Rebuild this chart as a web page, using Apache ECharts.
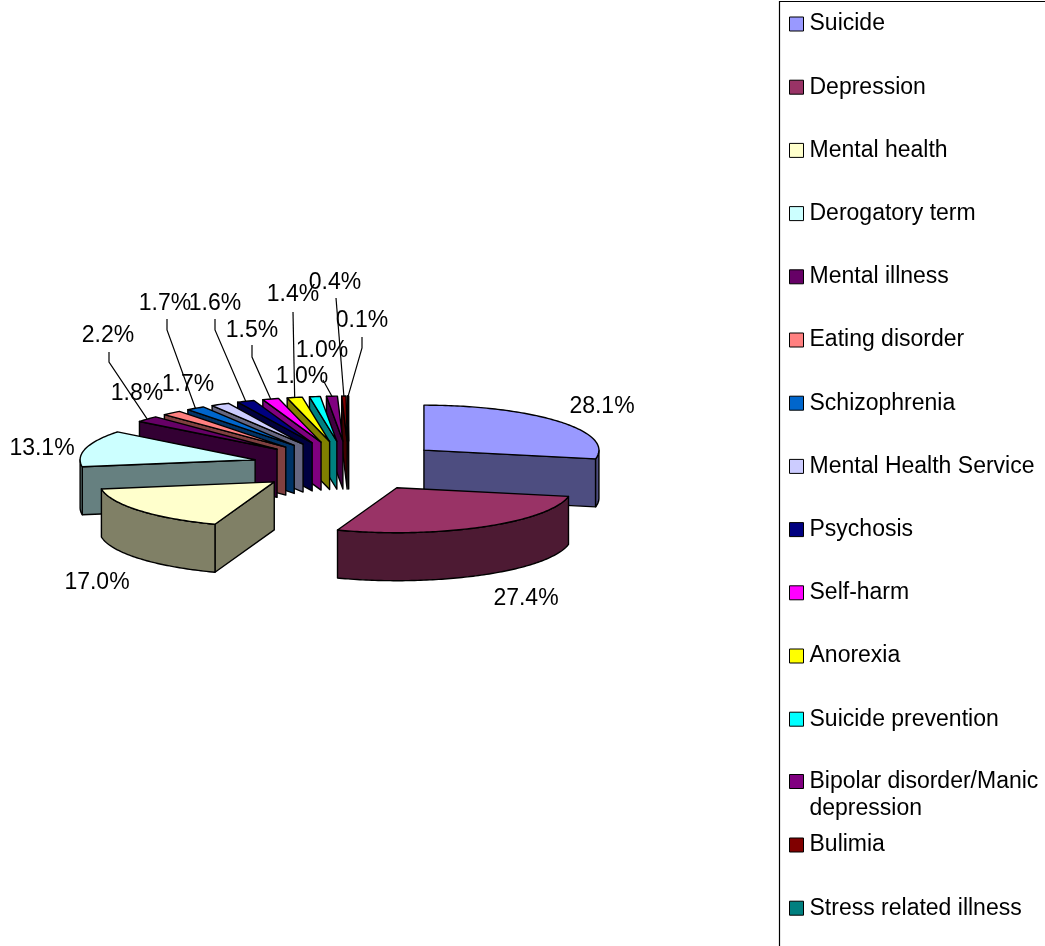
<!DOCTYPE html>
<html>
<head>
<meta charset="utf-8">
<title>Pie</title>
<script src="https://cdn.jsdelivr.net/npm/echarts@6/dist/echarts.min.js"></script>
<style>
	html, body { margin: 0; padding: 0; background: #fff; }
	#chart { width: 1045px; height: 946px; }
</style>
</head>
<body>
<div id="chart"></div>
<script>
// data
const categories = ["Suicide", "Depression", "Mental health", "Derogatory term", "Mental illness", "Eating disorder", "Schizophrenia", "Mental Health Service", "Psychosis", "Self-harm", "Anorexia", "Suicide prevention", "Bipolar disorder/Manic depression", "Bulimia", "Stress related illness"];
const shares = [28.1, 27.4, 17.0, 13.1, 2.2, 1.8, 1.7, 1.7, 1.6, 1.5, 1.4, 1.0, 1.0, 0.4, 0.1];

// styles
const colors = ["#9999FF", "#993366", "#FFFFCC", "#CCFFFF", "#660066", "#FF8080", "#0066CC", "#CCCCFF", "#000080", "#FF00FF", "#FFFF00", "#00FFFF", "#800080", "#800000", "#008080"];
const FONT = "Liberation Sans, Arial, sans-serif";
const FONT_SIZE = 23;

// tilted pie geometry
const center = { x: 349, y: 466 };
const radiusX = 175;
const radiusY = 45;
const explode = 97;
const depth = 48;
const RAD = Math.PI / 180;

// hand placed label boxes, [x, y] of the text, then the leader knee points if any
const labelPlaces = [
	{ at: [602, 407] },
	{ at: [526, 599] },
	{ at: [97, 583] },
	{ at: [42, 449] },
	{ at: [108, 336], leader: [[109, 352], [109, 362]] },
	{ at: [137, 394] },
	{ at: [165, 304], leader: [[167, 319], [167, 330]] },
	{ at: [188, 385] },
	{ at: [215, 304], leader: [[215, 319], [215, 330]] },
	{ at: [252, 331], leader: [[252, 345], [252, 357]] },
	{ at: [293, 295], leader: [[293, 312]] },
	{ at: [322, 351] },
	{ at: [302, 377], leader: [[323, 380]] },
	{ at: [335, 283], leader: [[336, 298]] },
	{ at: [362, 321], leader: [[362, 337], [362, 348]] }
];

const total = shares.reduce((a, b) => a + b, 0);

//每块的起止角度
let sum = 0;
const sliceAngles = shares.map(v => {
	const start = sum / total * 360;
	sum += v;
	return [start, sum / total * 360];
});

function darker(hex) {
	const c = echarts.color.parse(hex);
	return echarts.color.stringify([c[0] / 2, c[1] / 2, c[2] / 2, 1], "rgba");
}

// centre of an exploded slice
function apexOf(a0, a1) {
	const mid = (a0 + a1) / 2 * RAD;
	return [center.x + explode * Math.sin(mid), center.y - explode * (radiusY / radiusX) * Math.cos(mid)];
}

function rimPoint(apex, deg, drop) {
	return [apex[0] + radiusX * Math.sin(deg * RAD), apex[1] - radiusY * Math.cos(deg * RAD) + (drop || 0)];
}

function poly(points, fill) {
	return {
		type: "polygon",
		shape: { points: points },
		style: { fill: fill, stroke: "#000", lineWidth: 1.4, lineJoin: "round" }
	};
}

function renderSlice(params, api) {
	const a0 = api.value(0);
	const a1 = api.value(1);
	const color = colors[params.seriesIndex];
	const side = darker(color);
	const apex = apexOf(a0, a1);
	const low = [apex[0], apex[1] + depth];
	const children = [];

	// radial walls, only the ones turned to the viewer
	if (Math.cos((a0 - 90) * RAD) < -0.001) {
		children.push(poly([apex, rimPoint(apex, a0), rimPoint(apex, a0, depth), low], side));
	}
	if (Math.cos((a1 + 90) * RAD) < -0.001) {
		children.push(poly([apex, rimPoint(apex, a1), rimPoint(apex, a1, depth), low], side));
	}
	// outer wall, front half of the rim
	const from = Math.max(a0, 90);
	const to = Math.min(a1, 270);
	if (to > from) {
		const upper = [];
		const lower = [];
		for (let d = from; d < to; d += 1) {
			upper.push(rimPoint(apex, d));
			lower.unshift(rimPoint(apex, d, depth));
		}
		upper.push(rimPoint(apex, to));
		lower.unshift(rimPoint(apex, to, depth));
		children.push(poly(upper.concat(lower), side));
	}
	// top
	const top = [apex];
	for (let d = a0; d < a1; d += 1) {
		top.push(rimPoint(apex, d));
	}
	top.push(rimPoint(apex, a1));
	children.push(poly(top, color));

	return { type: "group", children: children };
}

function renderLabel(params, api) {
	const i = api.value(0);
	const place = labelPlaces[i];
	const children = [];
	if (place.leader) {
		const a = sliceAngles[i];
		const end = rimPoint(apexOf(a[0], a[1]), (a[0] + a[1]) / 2);
		children.push({
			type: "polyline",
			shape: { points: place.leader.concat([end]) },
			style: { fill: null, stroke: "#000", lineWidth: 1.2 }
		});
	}
	children.push({
		type: "text",
		style: {
			text: shares[i].toFixed(1) + "%",
			x: place.at[0],
			y: place.at[1],
			align: "center",
			verticalAlign: "middle",
			fill: "#000",
			font: FONT_SIZE + "px " + FONT
		}
	});
	return { type: "group", children: children };
}

//绘制顺序：从后往前
const paintRank = shares.map((v, i) => -Math.cos((sliceAngles[i][0] + sliceAngles[i][1]) / 2 * RAD));
const paintOrder = paintRank.map((v, i) => i).sort((a, b) => paintRank[a] - paintRank[b]);

const series = categories.map((name, i) => ({
	type: "custom",
	name: name,
	coordinateSystem: "none",
	z: 2 + paintOrder.indexOf(i),
	silent: true,
	itemStyle: { color: colors[i] },
	renderItem: renderSlice,
	data: [sliceAngles[i]]
}));
series.push({
	type: "custom",
	name: "labels",
	coordinateSystem: "none",
	z: 40,
	silent: true,
	renderItem: renderLabel,
	data: shares.map((v, i) => [i])
});

const legendBase = {
	orient: "vertical",
	left: 789,
	padding: 0,
	itemWidth: 14,
	itemHeight: 14,
	itemGap: 35.2,
	icon: "rect",
	selectedMode: false,
	itemStyle: { borderColor: "#000", borderWidth: 1 },
	textStyle: { color: "#000", fontFamily: FONT, fontSize: FONT_SIZE, lineHeight: 27, padding: [1, 0, 0, 1] }
};

const option = {
	backgroundColor: "#fff",
	animation: false,
	legend: [
		Object.assign({}, legendBase, {
			top: 10,
			data: categories.slice(0, 12)
		}),
		// the wrapped item sits in its own legend, a blank first line keeps the marker on the text line
		Object.assign({}, legendBase, {
			top: 740.5,
			data: [categories[12]],
			formatter: function(name) {
				return "\n" + name.replace("/Manic ", "/Manic\n");
			}
		}),
		Object.assign({}, legendBase, {
			top: 831,
			data: categories.slice(13)
		})
	],
	graphic: [{
		type: "polyline",
		silent: true,
		shape: { points: [[779.5, 960], [779.5, 1.5], [1060, 1.5]] },
		style: { fill: null, stroke: "#000", lineWidth: 1.2 }
	}],
	series: series
};

const myChart = echarts.init(document.getElementById("chart"), null, { renderer: "canvas" });
myChart.setOption(option);
</script>
</body>
</html>
